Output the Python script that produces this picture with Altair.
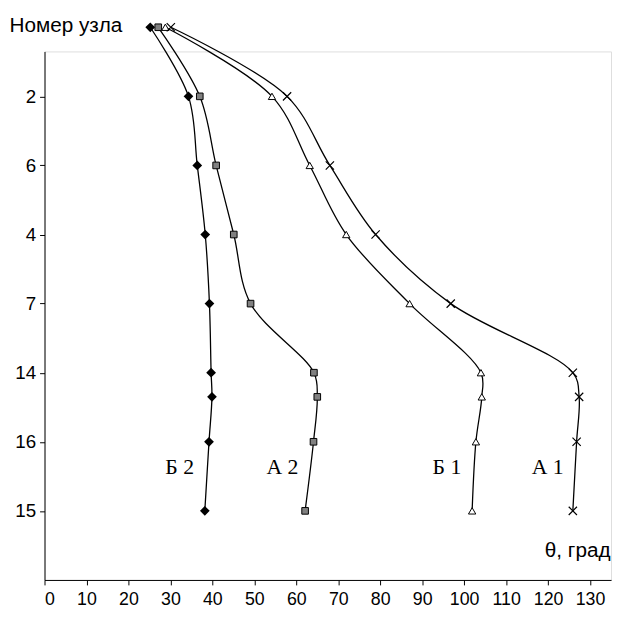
import altair as alt
import pandas as pd

# y positions (row index) of the points, top row = 0
rows = [0, 1, 2, 3, 4, 5, 5.35, 6, 7]
# node labels on the y axis at rows 1..7
node_pos = [1, 2, 3, 4, 5, 6, 7]
node_labels = ["2", "6", "4", "7", "14", "16", "15"]

b2 = [25.2, 34.3, 36.4, 38.3, 39.3, 39.7, 39.9, 39.2, 38.2]
a2 = [27.1, 37.0, 40.9, 45.1, 49.1, 64.2, 65.0, 64.1, 62.1]
b1 = [28.8, 54.2, 63.2, 71.9, 87.0, 104.0, 104.2, 102.8, 101.9]
a1 = [30.1, 57.8, 68.0, 78.9, 96.8, 125.9, 127.4, 126.8, 125.9]

series_names = ["Б 2", "А 2", "Б 1", "А 1"]
series_vals = [b2, a2, b1, a1]
label_x = [32.2, 56.7, 95.9, 119.9]
label_y = [6.37, 6.37, 6.37, 6.37]

recs = []
for name, vals in zip(series_names, series_vals):
    for i, (r, v) in enumerate(zip(rows, vals)):
        recs.append({"s": name, "ord": i, "row": r, "t": v})
df = pd.DataFrame(recs)
lab = pd.DataFrame({"s": series_names, "t": label_x, "row": label_y})

expr = "{" + ",".join(f"'{p}':'{l}'" for p, l in zip(node_pos, node_labels)) + "}[datum.value]"

X = alt.X("t:Q", scale=alt.Scale(domain=[0, 135], nice=False, zero=False),
          axis=alt.Axis(values=list(range(0, 131, 10)), grid=False, domainColor="black",
                        tickColor="black", tickSize=5, labelFontSize=18, labelColor="black",
                        labelFont="Liberation Sans", labelPadding=6,
                        title="θ, град", titleFont="Liberation Sans", titleFontSize=21,
                        titleFontWeight="normal", titleColor="black",
                        titleAlign="right", titleBaseline="middle", titleAnchor="start",
                        titleX=573, titleY=-30))
Y = alt.Y("row:Q", scale=alt.Scale(domain=[0.35, 8.0], reverse=True, nice=False, zero=False),
          axis=alt.Axis(values=node_pos, labelExpr=expr, grid=False, domainColor="black",
                        tickColor="black", tickSize=5, labelFontSize=19, labelColor="black",
                        labelFont="Liberation Sans", labelPadding=4,
                        title="Номер узла", titleFont="Liberation Sans", titleFontSize=21,
                        titleFontWeight="normal", titleColor="black", titleAngle=0,
                        titleAlign="left", titleBaseline="middle",
                        titleX=-36, titleY=-26))

base = alt.Chart(df)
line = base.mark_line(interpolate="catmull-rom", color="black", strokeWidth=1.3).encode(
    x=X, y=Y, detail="s:N", order="ord:Q")

def pts(name, **kw):
    return alt.Chart(df).transform_filter(alt.datum.s == name).mark_point(**kw).encode(
        x="t:Q", y="row:Q")

p_b2 = pts("Б 2", shape="diamond", filled=True, fill="black", stroke="black", size=50, opacity=1)
p_a2 = pts("А 2", shape="square", filled=True, fill="#808080", stroke="black", strokeWidth=1, size=45, opacity=1)
p_b1 = pts("Б 1", shape="triangle-up", filled=True, fill="white", stroke="black", strokeWidth=1, size=55, opacity=1)
p_a1 = pts("А 1", shape="M-1,-1L1,1M-1,1L1,-1", filled=False, stroke="black", strokeWidth=1.2, size=70, opacity=1)

labels = alt.Chart(lab).mark_text(font="Liberation Serif", fontSize=22, color="black",
                                  align="center", baseline="middle").encode(
    x="t:Q", y="row:Q", text="s:N")

chart = alt.layer(line, p_b2, p_a2, p_b1, p_a1, labels).properties(
    width=574, height=535.5,
    autosize=alt.AutoSizeParams(type="none"),
    padding={"left": 37, "top": 40, "right": 2, "bottom": 32},
).configure_view(stroke=None).configure(background="white")

chart.save("out.html", embed_options={"renderer": "svg", "actions": False})
